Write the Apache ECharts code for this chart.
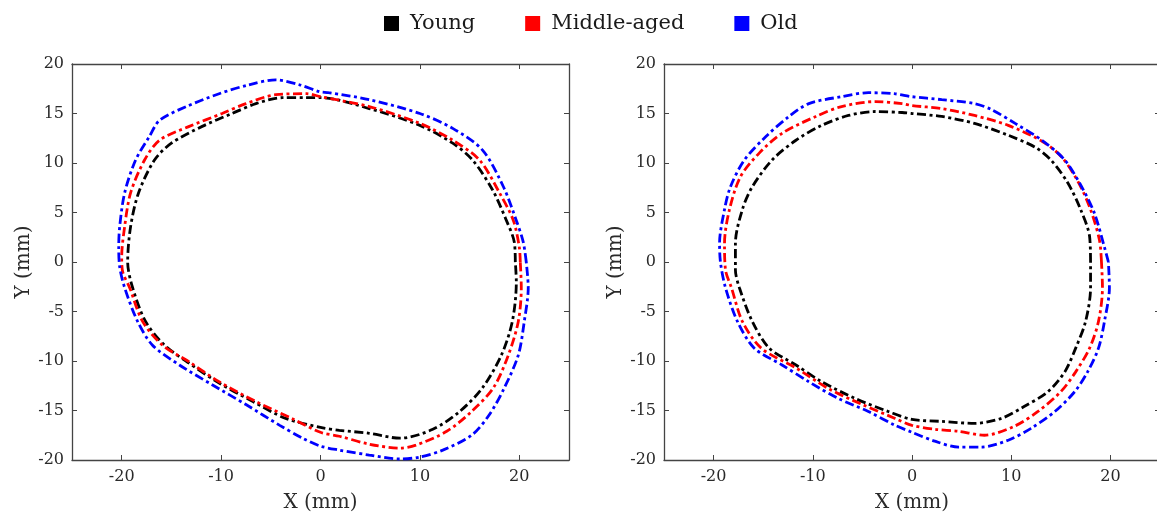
<!DOCTYPE html>
<html>
<head>
<meta charset="utf-8">
<script src="https://cdn.jsdelivr.net/npm/echarts@6/dist/echarts.min.js"></script>
<style>
html, body {margin: 0; padding: 0; background: #fff;}
#main {width: 1157px; height: 516px;}
</style>
</head>
<body>
<div id="main"></div>
<script>
// contour points, [x, y] in mm, counter-clockwise from the right side
var left_young = [[19.6,0],[19.5,2],[18.7,4.2],[17.3,7.3],[15.3,10.3],[13.3,12],[10,13.8],[4.9,15.5],[0,16.6],[-1.4,16.6],[-3.8,16.6],[-6.5,16],[-8.9,15],[-11.9,13.7],[-15,12],[-16.7,10.3],[-18.3,7],[-19.1,3.6],[-19.4,0],[-18.9,-2.6],[-17.6,-6],[-15.7,-8.4],[-13.4,-10.1],[-10.4,-12.1],[-6.8,-14.1],[-3.5,-15.8],[0,-16.7],[1.9,-17],[4.9,-17.3],[8,-17.8],[11.3,-16.9],[14,-15.1],[16.3,-12.7],[18.2,-9.4],[19.3,-6],[19.7,-2]];
var left_middle = [[20.1,0],[20,1.5],[19.4,4.2],[18,7],[16,10.3],[13.3,12.3],[10,14],[4.9,15.7],[0,16.7],[-1.4,17],[-4.5,16.9],[-7.5,16],[-9.9,15],[-13.2,13.7],[-16.2,12.3],[-17.7,10.3],[-19.1,7],[-19.7,3.6],[-20,0.5],[-19.9,-1],[-19.2,-2.6],[-17.9,-6],[-15.9,-8.4],[-13.2,-10.1],[-10.2,-12.1],[-6.5,-14.1],[-2.9,-15.8],[0,-17.2],[1.9,-17.6],[4.9,-18.4],[8,-18.8],[9.6,-18.5],[12.7,-17.1],[15.2,-15.1],[17.4,-12.7],[18.9,-9.4],[19.9,-6],[20.2,-2.6]];
var left_old = [[20.7,0],[20.4,2],[19.7,4.2],[18.4,7.6],[16.3,11.3],[13.3,13.5],[10,15],[4.9,16.4],[0.8,17.1],[-0.1,17.2],[-2.1,17.9],[-4.5,18.4],[-7.2,17.9],[-10.2,17],[-13.5,15.7],[-16.2,14.3],[-17.2,12.7],[-18.6,10.3],[-19.7,7],[-20.2,3.6],[-20.3,1.5],[-20.2,-0.5],[-19.7,-2.6],[-18.4,-6],[-16.9,-8.4],[-14.2,-10.4],[-10.9,-12.4],[-7.5,-14.4],[-4.1,-16.5],[-1.8,-17.8],[0,-18.6],[1.9,-19],[4.9,-19.5],[8,-19.9],[10,-19.7],[12.3,-19],[15.2,-17.5],[17,-15.4],[18.5,-12.7],[19.9,-9.4],[20.5,-6],[20.9,-2.6]];

var right_young = [[18,0],[17.9,2.6],[17,5.3],[15.7,8],[14,10.3],[12.4,11.6],[9.7,12.8],[6.3,14],[3,14.7],[0,15],[-1,15.1],[-3.7,15.2],[-6.4,14.8],[-9.1,13.8],[-11.7,12.3],[-14.1,10.3],[-16.1,7.6],[-17.1,5.3],[-17.8,1.9],[-17.8,-0.8],[-17.4,-2.6],[-16.1,-6],[-14.4,-8.7],[-11.7,-10.4],[-9.1,-12.1],[-5.7,-13.8],[-2.4,-15.1],[0,-15.9],[3,-16.1],[6.3,-16.3],[9,-15.8],[11.3,-14.6],[13.7,-13.1],[15.4,-11.1],[16.5,-8.7],[17.5,-6],[18,-2.6]];
var right_middle = [[19.1,0],[18.9,2.2],[18,5.3],[16.8,8],[15.1,10.6],[13.1,12.2],[9.7,13.8],[6.3,14.8],[3,15.5],[0,15.8],[-1,16],[-3.7,16.2],[-7.1,15.7],[-9.7,14.7],[-13.1,13],[-15.4,11],[-17.3,8.6],[-18.4,5.3],[-18.9,1.9],[-18.8,-0.8],[-18.2,-2.6],[-17.1,-6],[-15.2,-8.7],[-11.7,-10.7],[-8.4,-12.8],[-5,-14.4],[-1.7,-15.8],[0,-16.5],[2.3,-16.9],[4.7,-17.1],[7.3,-17.5],[10.3,-16.6],[12.7,-15.1],[15,-13.1],[16.5,-11.1],[17.9,-8.7],[18.8,-6],[19.2,-2.6]];
var right_old = [[19.8,0],[19.4,1.5],[18.4,4.9],[17.1,7.6],[15.4,10.3],[13.1,12.3],[10.4,14],[8,15.4],[6.3,16],[3,16.4],[0,16.7],[-1.8,17],[-4.4,17.1],[-7.1,16.7],[-10.4,16],[-12.4,14.7],[-14.7,12.7],[-16.9,10.3],[-18.3,7.6],[-18.9,5.3],[-19.4,1.9],[-19.3,-0.1],[-18.8,-2.6],[-17.6,-6],[-15.9,-8.7],[-13.1,-10.4],[-10.4,-12.1],[-7.4,-13.8],[-4.4,-15.1],[-1.7,-16.5],[0,-17.2],[2.3,-18.1],[4.7,-18.7],[7,-18.7],[9.7,-18],[12,-16.8],[14.4,-15.1],[16.4,-13.1],[17.7,-11.1],[18.8,-8.7],[19.4,-6],[19.9,-2.6]];

var group_names = ['Young', 'Middle-aged', 'Old'];
var group_colors = ['#000000', '#ff0000', '#0000ff'];
var x_ticks = [-20, -10, 0, 10, 20];

var font = '"DejaVu Serif", "Liberation Serif", serif';
var axis_color = '#444';
var text_color = '#2a2a2a';

var myChart = echarts.init(document.getElementById('main'));

function close_loop(pts){
    return pts.concat([pts[0]]);
}

function make_x(grid, pos){
    var main = pos == 'bottom';
    return {
        type: 'value', gridIndex: grid, position: pos,
        min: -25, max: 25,
        name: main ? 'X (mm)' : '', nameLocation: 'middle', nameGap: 33,
        nameTextStyle: {fontFamily: font, fontSize: 20, color: text_color},
        axisLine: {show: true, onZero: false, lineStyle: {color: axis_color, width: 1.3}},
        axisTick: {show: true, inside: true, length: 5, customValues: x_ticks, lineStyle: {color: axis_color}},
        axisLabel: {show: main, customValues: x_ticks, margin: 9, fontFamily: font, fontSize: 16, color: text_color},
        splitLine: {show: false}
    };
}

function make_y(grid, pos){
    var main = pos == 'left';
    return {
        type: 'value', gridIndex: grid, position: pos,
        min: -20, max: 20, interval: 5,
        name: main ? 'Y (mm)' : '', nameLocation: 'middle', nameGap: 38,
        nameTextStyle: {fontFamily: font, fontSize: 20, color: text_color},
        axisLine: {show: true, onZero: false, lineStyle: {color: axis_color, width: 1.3}},
        axisTick: {show: true, inside: true, length: 5, lineStyle: {color: axis_color}},
        axisLabel: {show: main, margin: 8, fontFamily: font, fontSize: 16, color: text_color},
        splitLine: {show: false}
    };
}

function make_series(name, color, pts, axis){
    return {
        name: name, type: 'line',
        xAxisIndex: axis, yAxisIndex: axis,
        data: close_loop(pts),
        showSymbol: false, symbol: 'none',
        smooth: 0.3,
        itemStyle: {color: color},
        lineStyle: {color: color, width: 2.8, type: [9, 3.5, 3, 3.5]},
        animation: false
    };
}

var left_sets = [left_young, left_middle, left_old];
var right_sets = [right_young, right_middle, right_old];
var series = [];
for (var i = 0; i < 3; i++){
    series.push(make_series(group_names[i], group_colors[i], left_sets[i], 0));
    series.push(make_series(group_names[i], group_colors[i], right_sets[i], 2));
}

var option = {
    backgroundColor: '#fff',
    animation: false,
    legend: {
        data: group_names.map(function(n){ return {name: n, icon: 'rect'}; }),
        left: 379, top: 8,
        itemWidth: 15, itemHeight: 15, itemGap: 50,
        itemStyle: {borderWidth: 0},
        lineStyle: {width: 0},
        textStyle: {fontFamily: font, fontSize: 21, color: '#1a1a1a', padding: [0, 0, 0, 6]}
    },
    // the right panel runs a few px past the canvas edge, so no shrinking to fit
    grid: [
        {left: 72, top: 64, width: 497, height: 396, outerBoundsMode: 'none'},
        {left: 664, top: 64, width: 496, height: 396, outerBoundsMode: 'none'}
    ],
    // xAxis 0/1 and yAxis 0/1 -> left panel, 2/3 -> right panel (top/right ones only carry the mirrored ticks)
    xAxis: [make_x(0, 'bottom'), make_x(0, 'top'), make_x(1, 'bottom'), make_x(1, 'top')],
    yAxis: [make_y(0, 'left'), make_y(0, 'right'), make_y(1, 'left'), make_y(1, 'right')],
    series: series
};

myChart.setOption(option);
</script>
</body>
</html>
